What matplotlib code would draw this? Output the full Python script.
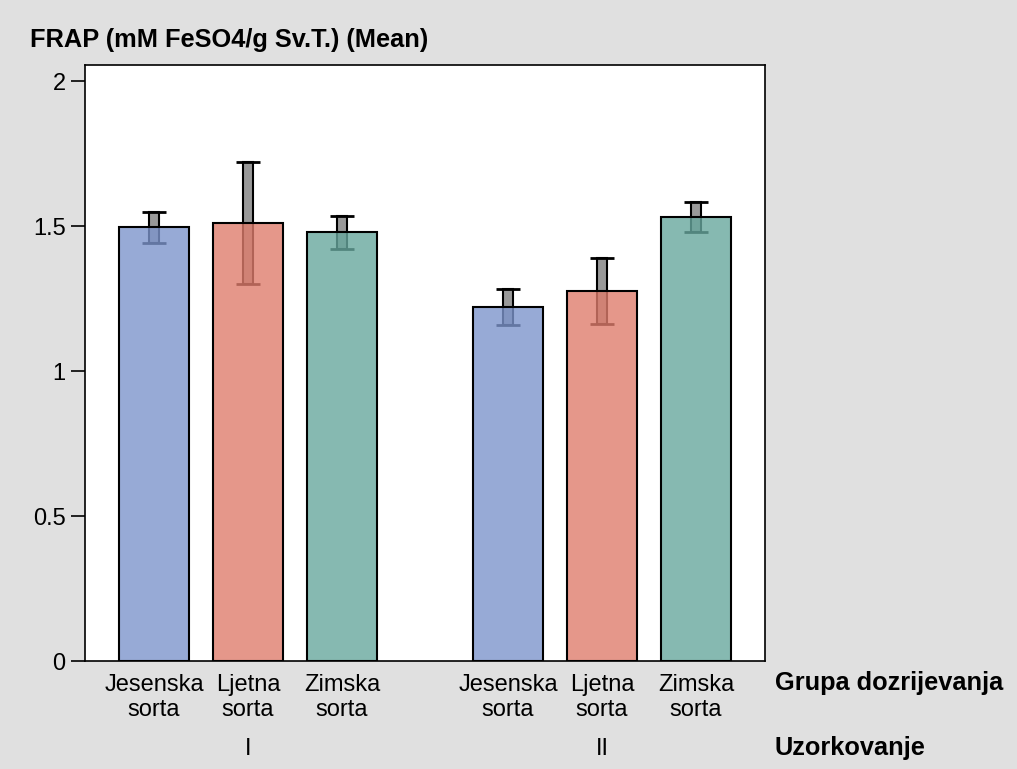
import matplotlib.pyplot as plt
import matplotlib.colors as mcolors
import matplotlib.transforms as mtransforms
import numpy as np

# data
groups = ["I", "II"]
varieties = ["Jesenska\nsorta", "Ljetna\nsorta", "Zimska\nsorta"]
means_I = [1.495, 1.510, 1.478]
means_II = [1.220, 1.275, 1.532]
err_I = [0.055, 0.210, 0.057]
err_II = [0.062, 0.113, 0.052]
yticks = [0, 0.5, 1, 1.5, 2]
yticklabels = ["0", "0.5", "1", "1.5", "2"]

bar_colors = ["#97AAD6", "#E5978A", "#86B9B1"]
bg = "#E0E0E0"
alpha = 0.8

plt.rcParams['font.family'] = ['Liberation Sans', 'DejaVu Sans']
fs = 17
fs_bold = 18.3

fig = plt.figure(figsize=(10.17, 7.69), dpi=100, facecolor=bg)
ax = fig.add_axes([0.0836, 0.1404, 0.6686, 0.7750])
ax.set_facecolor("white")

gap = 1.766
xpos = [0, 1, 2, gap + 2, gap + 3, gap + 4]
means = means_I + means_II
errs = err_I + err_II
cols = bar_colors * 2

def face(c):
    # colour that gives c over white at the given alpha
    r = np.array(mcolors.to_rgb(c))
    base = (r - (1 - alpha)) / alpha
    return tuple(np.clip(base, 0, 1)) + (alpha,)

for x, m, e, c in zip(xpos, means, errs, cols):
    ax.bar(x, 2 * e, bottom=m - e, width=0.11, color="#999999",
           edgecolor="black", linewidth=1.5, zorder=2)
    ax.hlines([m - e, m + e], x - 0.13, x + 0.13, color="black", lw=2, zorder=2)
    ax.bar(x, m, width=0.745, facecolor=face(c), edgecolor="black",
           linewidth=1.5, zorder=3)

ax.set_xlim(-0.734, 6.5)
ax.set_ylim(0, 2.055)
ax.set_yticks(yticks)
ax.set_yticklabels(yticklabels, fontsize=fs)
ax.tick_params(axis='y', length=10, width=1.2, pad=4)
ax.set_xticks(xpos)
ax.set_xticklabels(varieties * 2, fontsize=fs, linespacing=1.2)
ax.tick_params(axis='x', length=0, pad=9)
for s in ax.spines.values():
    s.set_linewidth(1.2)

fig.text(30 / 1017, 1 - 40 / 769, "FRAP (mM FeSO4/g Sv.T.) (Mean)",
         fontsize=fs_bold, fontweight="bold", va="center", ha="left")

trans = mtransforms.blended_transform_factory(ax.transData, fig.transFigure)
for i, g in enumerate(groups):
    gx = np.mean(xpos[i * 3:i * 3 + 3])
    ax.text(gx, 1 - 749 / 769, g, transform=trans, fontsize=fs,
            ha="center", va="center")

fig.text(775 / 1017, 1 - 683 / 769, "Grupa dozrijevanja", fontsize=fs_bold,
         fontweight="bold", va="center", ha="left")
fig.text(775 / 1017, 1 - 748 / 769, "Uzorkovanje", fontsize=fs_bold,
         fontweight="bold", va="center", ha="left")

fig.savefig("out.png", dpi=100, facecolor=bg)
